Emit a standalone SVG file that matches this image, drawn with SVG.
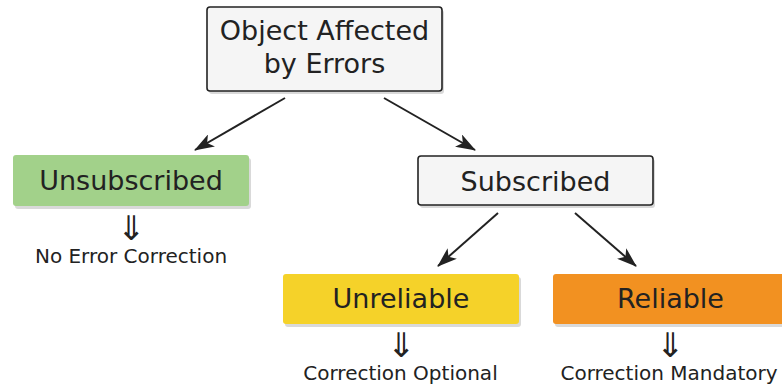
<svg xmlns="http://www.w3.org/2000/svg" width="782" height="387" viewBox="0 0 782 387">
  <style>
    .box { stroke: #222; stroke-width: 1.6; }
    .flat { stroke: none; }
    .shadow { fill: #d9d9d9; stroke: none; }
    .label { font-family: "DejaVu Sans", sans-serif; font-size: 27px; fill: #222; text-anchor: middle; }
    .note { font-family: "DejaVu Sans", sans-serif; font-size: 20px; fill: #222; text-anchor: middle; }
    .imp { font-family: "Noto Sans CJK SC", sans-serif; font-size: 34px; fill: #222; text-anchor: middle; }
    .edge { stroke: #222; stroke-width: 2; fill: none; marker-end: url(#head); }
  </style>
  <defs>
    <marker id="head" viewBox="0 0 20 14" refX="19" refY="7" markerWidth="20" markerHeight="14" markerUnits="userSpaceOnUse" orient="auto">
      <path d="M0,0 L20,7 L0,14 L5,7 Z" fill="#222"/>
    </marker>
  </defs>
  <rect width="782" height="387" fill="#ffffff"/>

  <g id="connectors">
    <line class="edge" x1="285" y1="98" x2="195" y2="150"/>
    <line class="edge" x1="384" y1="98" x2="475" y2="150"/>
    <line class="edge" x1="498" y1="213" x2="438" y2="266"/>
    <line class="edge" x1="575" y1="213" x2="636" y2="266"/>
  </g>

  <g id="root">
    <rect class="shadow" x="209" y="10" width="235" height="84" rx="3"/>
    <rect class="box" x="207" y="7" width="235" height="84" rx="3" fill="#f5f5f5"/>
    <text class="label" x="324.5" y="40">Object Affected</text>
    <text class="label" x="324.5" y="73">by Errors</text>
  </g>

  <g id="unsubscribed">
    <rect class="shadow" x="15" y="158" width="236" height="51" rx="3"/>
    <rect class="flat" x="13" y="155" width="236" height="51" rx="3" fill="#a2d18a"/>
    <text class="label" x="131" y="190">Unsubscribed</text>
    <text class="imp" x="131" y="240">⇓</text>
    <text class="note" x="131" y="263">No Error Correction</text>
  </g>

  <g id="subscribed">
    <rect class="shadow" x="420" y="159" width="235" height="49" rx="3"/>
    <rect class="box" x="418" y="156" width="235" height="49" rx="3" fill="#f5f5f5"/>
    <text class="label" x="535.5" y="191">Subscribed</text>
  </g>

  <g id="unreliable">
    <rect class="shadow" x="285" y="277" width="236" height="50" rx="3"/>
    <rect class="flat" x="283" y="274" width="236" height="50" rx="3" fill="#f5d229"/>
    <text class="label" x="401" y="308">Unreliable</text>
    <text class="imp" x="401" y="357">⇓</text>
    <text class="note" x="400.5" y="380">Correction Optional</text>
  </g>

  <g id="reliable">
    <rect class="shadow" x="555" y="277" width="236" height="50" rx="3"/>
    <rect class="flat" x="553" y="274" width="236" height="50" rx="3" fill="#f29121"/>
    <text class="label" x="670.5" y="308">Reliable</text>
    <text class="imp" x="670" y="357">⇓</text>
    <text class="note" x="669" y="380">Correction Mandatory</text>
  </g>
</svg>
